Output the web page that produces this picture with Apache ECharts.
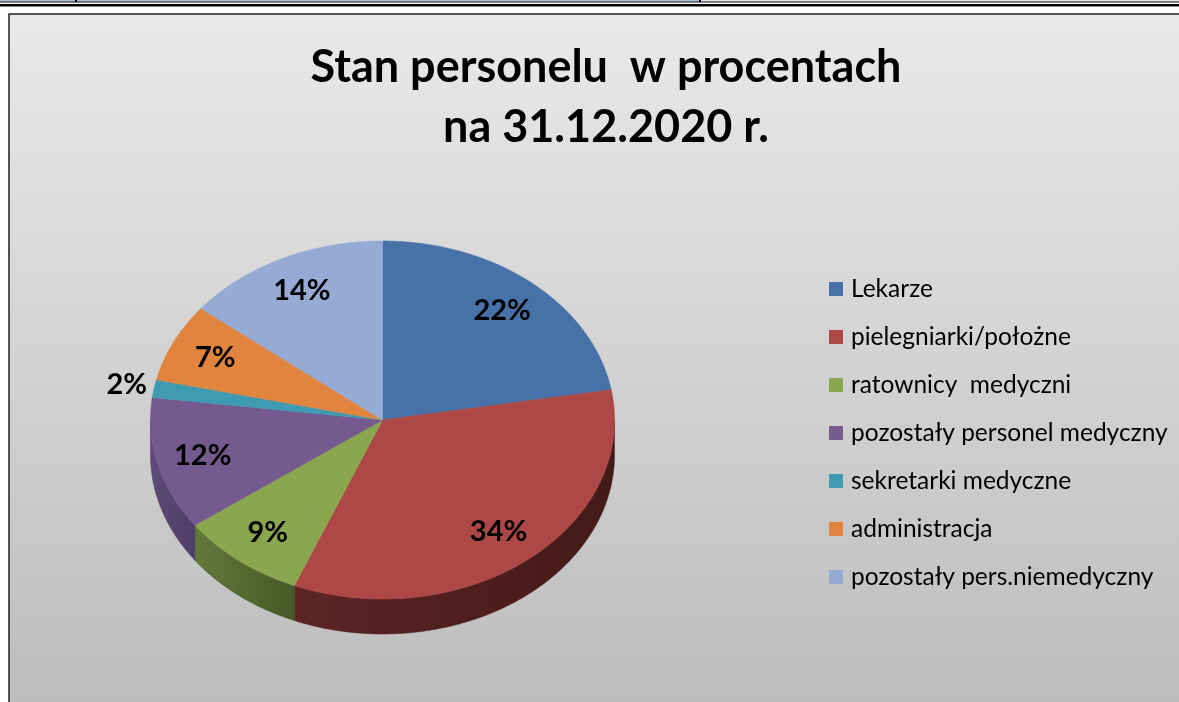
<!DOCTYPE html>
<html>
<head>
    <meta charset="utf-8">
    <title>Stan personelu</title>
    <script src="https://cdn.jsdelivr.net/npm/echarts@6/dist/echarts.min.js"></script>
    <style>
        body { margin: 0; background: #fff; }
    </style>
</head>
<body>
<div id="main" style="width: 1179px;height:702px;"></div>
<script type="text/javascript">
    // dane
    var categories = ['Lekarze', 'pielegniarki/położne', 'ratownicy  medyczni', 'pozostały personel medyczny',
        'sekretarki medyczne', 'administracja', 'pozostały pers.niemedyczny'];
    var values = [22.3, 33.9, 8.8, 12.0, 1.6, 7.1, 14.3];

    var colors = ['#4672a8', '#ad4846', '#8aa64f', '#745a8f', '#3f9bb1', '#e0843e', '#95abd3'];
    var sideColors = [
        ['#2c4a70', '#233b59'],
        ['#5c2524', '#441a19'],
        ['#62793a', '#465826'],
        ['#5f4a79', '#4f3e66'],
        ['#2a6878', '#22545f'],
        ['#9a5a2a', '#7a4620'],
        ['#66768f', '#55637a']
    ];

    var font = 'Lato';
    var cx = 382.5, cy = 420, rx = 232, ry = 179, depth = 35;

    var myChart = echarts.init(document.getElementById('main'));

    function pt(a, r, dy) {
        return [cx + rx * r * Math.sin(a), cy - ry * r * Math.cos(a) + (dy || 0)];
    }

    function arc(a0, a1, r, dy) {
        var pts = [];
        var n = Math.max(2, Math.ceil((a1 - a0) / 0.01));
        for (var k = 0; k <= n; k++) {
            pts.push(pt(a0 + (a1 - a0) * k / n, r, dy));
        }
        return pts;
    }

    var total = values.reduce(function (s, v) { return s + v; }, 0);

    function renderItem(params, api) {
        var i = params.dataIndex;
        var start = 0;
        for (var j = 0; j < i; j++) start += values[j];
        var a0 = start / total * Math.PI * 2;
        var a1 = (start + api.value(0)) / total * Math.PI * 2;
        var children = [];

        // bok (sciana) - tylko przednia polowa
        var b0 = Math.max(a0, Math.PI / 2), b1 = Math.min(a1, Math.PI * 1.5);
        if (b1 > b0) {
            var wall = arc(b0, b1, 1, 0).concat(arc(b0, b1, 1, depth).reverse());
            children.push({
                type: 'polygon',
                shape: { points: wall },
                style: {
                    fill: {
                        type: 'linear', x: 0, y: 0, x2: 1, y2: 0,
                        colorStops: [{ offset: 0, color: sideColors[i][0] }, { offset: 1, color: sideColors[i][1] }]
                    },
                    stroke: sideColors[i][1], lineWidth: 0.5
                }
            });
        }

        // wierzch
        var top = [[cx, cy]].concat(arc(a0, a1, 1, 0));
        children.push({
            type: 'polygon',
            shape: { points: top },
            style: { fill: colors[i], stroke: colors[i], lineWidth: 0.6 }
        });

        // etykieta
        var pct = api.value(0) / total * 100;
        var mid = (a0 + a1) / 2;
        var lp = pt(mid, pct < 3 ? 1.12 : 0.8, 0);
        children.push({
            type: 'text',
            x: lp[0], y: lp[1], z2: 100,
            style: {
                text: Math.round(pct) + '%',
                fill: '#000',
                font: 'bold 29px ' + font,
                align: 'center',
                verticalAlign: 'middle'
            }
        });

        return { type: 'group', children: children };
    }

    var option = {
        backgroundColor: '#fff',
        animation: false,
        title: {
            text: 'Stan personelu  w procentach\nna 31.12.2020 r.',
            left: 601,
            top: 32,
            textAlign: 'center',
            textStyle: { fontFamily: font, fontWeight: 'bold', fontSize: 45, lineHeight: 60, color: '#000' }
        },
        legend: {
            orient: 'vertical',
            left: 824,
            top: 270,
            itemWidth: 14,
            itemHeight: 14,
            itemGap: 20,
            icon: 'rect',
            selectedMode: false,
            data: categories,
            textStyle: { fontFamily: font, fontSize: 24.5, lineHeight: 28, color: '#000', padding: [0, 0, 0, 3] }
        },
        graphic: [
            { type: 'rect', z: -10, shape: { x: 0, y: 0, width: 700, height: 1.5 }, style: { fill: '#a9bedb' } },
            { type: 'rect', z: -10, shape: { x: 700, y: 0, width: 479, height: 1.5 }, style: { fill: '#dfe6ef' } },
            { type: 'rect', z: -9, shape: { x: 75, y: 0, width: 2, height: 2 }, style: { fill: '#000' } },
            { type: 'rect', z: -9, shape: { x: 699, y: 0, width: 2, height: 2 }, style: { fill: '#000' } },
            { type: 'rect', z: -9, shape: { x: 0, y: 1.5, width: 1179, height: 1 }, style: { fill: '#000' } },
            { type: 'rect', z: -9, shape: { x: 0, y: 4, width: 1179, height: 2.5 }, style: { fill: '#000' } },
            {
                type: 'rect', z: -10,
                shape: { x: 9, y: 14, width: 1200, height: 700 },
                style: {
                    fill: {
                        type: 'linear', x: 0, y: 0, x2: 0, y2: 1,
                        colorStops: [{ offset: 0, color: '#e9e9e9' }, { offset: 1, color: '#bcbcbc' }]
                    },
                    stroke: '#222', lineWidth: 1.5
                }
            }
        ],
        series: [
            {
                // tylko dla legendy
                type: 'pie',
                radius: [0, 0],
                silent: true,
                label: { show: false },
                labelLine: { show: false },
                color: colors,
                data: categories.map(function (c, i) { return { name: c, value: values[i] }; })
            },
            {
                type: 'custom',
                coordinateSystem: 'none',
                renderItem: renderItem,
                silent: true,
                data: values
            }
        ]
    };

    myChart.setOption(option);
</script>
</body>
</html>
